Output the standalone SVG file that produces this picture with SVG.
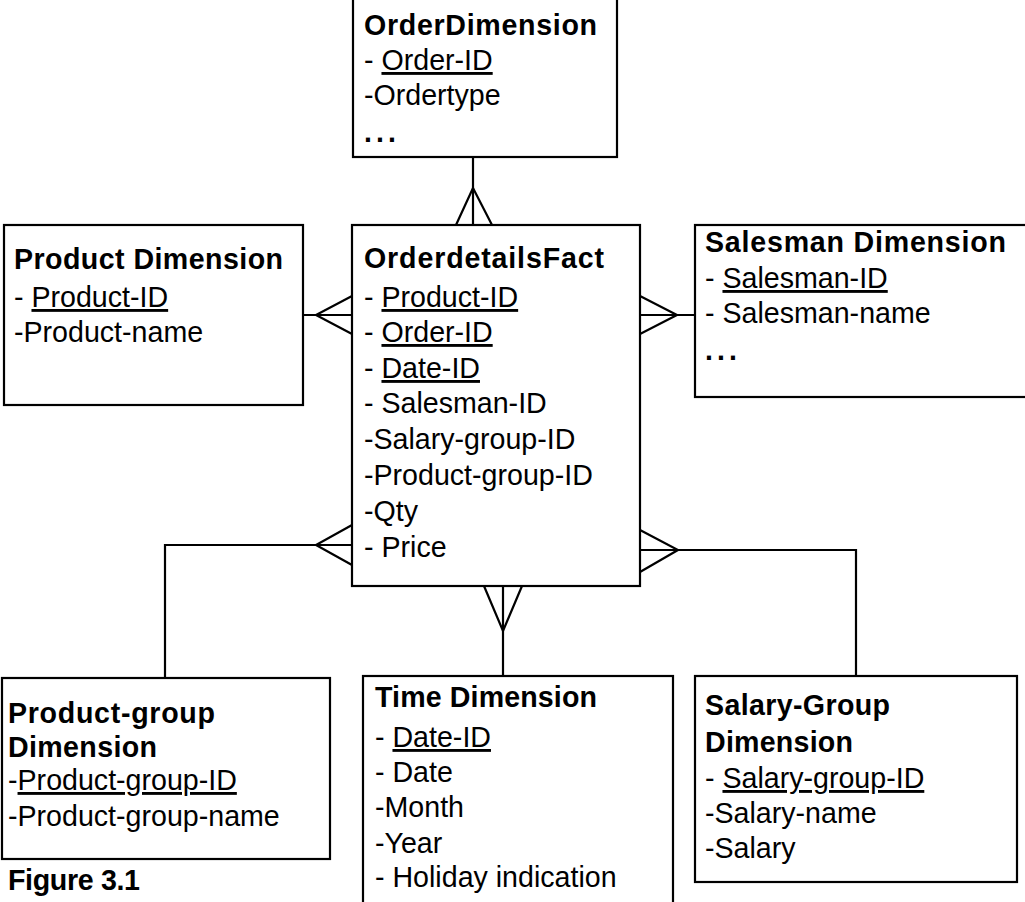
<svg xmlns="http://www.w3.org/2000/svg" width="1025" height="902" viewBox="0 0 1025 902">
<style>
  .box { fill: #ffffff; stroke: #000000; stroke-width: 2.2; }
  .t { font-family: "Liberation Sans", Arial, sans-serif; font-size: 28.6px; fill: #000000; }
  .b { font-weight: bold; }
  .u { text-decoration: underline; }
  .dots { font-weight: bold; letter-spacing: 4px; }
  .c { fill: none; stroke: #000000; stroke-width: 2.2; }
</style>
<rect width="1025" height="902" fill="#ffffff"/>

<g id="connectors">
  <line class="c" x1="473" y1="157" x2="473" y2="225"/>
  <polyline class="c" points="456,225 473,188 492,225"/>
  <line class="c" x1="303" y1="315" x2="352" y2="315"/>
  <polyline class="c" points="352,296 316,315 352,334"/>
  <line class="c" x1="640" y1="315" x2="695" y2="315"/>
  <polyline class="c" points="640,296 677,315 640,334"/>
  <polyline class="c" points="352,545 165,545 165,678"/>
  <polyline class="c" points="352,525 316,545 352,565"/>
  <line class="c" x1="503" y1="586" x2="503" y2="676"/>
  <polyline class="c" points="484,586 503,631 522,586"/>
  <polyline class="c" points="640,550 856,550 856,676"/>
  <polyline class="c" points="640,530 678,550 640,572"/>
</g>

<g id="order-dimension">
  <rect class="box" x="353" y="-2" width="264" height="159"/>
  <text class="t b" x="364" y="35" textLength="233" lengthAdjust="spacing">OrderDimension</text>
  <text class="t" x="364" y="70">- <tspan class="u">Order-ID</tspan></text>
  <text class="t" x="364" y="105">-Ordertype</text>
  <text class="t dots" x="364" y="142">...</text>
</g>

<g id="orderdetails-fact">
  <rect class="box" x="352" y="225" width="288" height="361"/>
  <text class="t b" x="364" y="268" textLength="240" lengthAdjust="spacing">OrderdetailsFact</text>
  <text class="t" x="364" y="307">- <tspan class="u">Product-ID</tspan></text>
  <text class="t" x="364" y="342">- <tspan class="u">Order-ID</tspan></text>
  <text class="t" x="364" y="378">- <tspan class="u">Date-ID</tspan></text>
  <text class="t" x="364" y="413">- Salesman-ID</text>
  <text class="t" x="364" y="449">-Salary-group-ID</text>
  <text class="t" x="364" y="485">-Product-group-ID</text>
  <text class="t" x="364" y="521">-Qty</text>
  <text class="t" x="364" y="557">- Price</text>
</g>

<g id="product-dimension">
  <rect class="box" x="4" y="225" width="299" height="180"/>
  <text class="t b" x="14" y="269" textLength="269" lengthAdjust="spacing">Product Dimension</text>
  <text class="t" x="14" y="307">- <tspan class="u">Product-ID</tspan></text>
  <text class="t" x="14" y="342">-Product-name</text>
</g>

<g id="salesman-dimension">
  <rect class="box" x="695" y="225" width="340" height="172"/>
  <text class="t b" x="705" y="252" textLength="301" lengthAdjust="spacing">Salesman  Dimension</text>
  <text class="t" x="705" y="288">- <tspan class="u">Salesman-ID</tspan></text>
  <text class="t" x="705" y="323">- Salesman-name</text>
  <text class="t dots" x="705" y="360">...</text>
</g>

<g id="product-group-dimension">
  <rect class="box" x="2" y="678" width="328" height="181"/>
  <text class="t b" x="8" y="723" textLength="207" lengthAdjust="spacing">Product-group</text>
  <text class="t b" x="8" y="757" textLength="149" lengthAdjust="spacing">Dimension</text>
  <text class="t" x="8" y="790">-<tspan class="u">Product-group-ID</tspan></text>
  <text class="t" x="8" y="826">-Product-group-name</text>
</g>

<g id="time-dimension">
  <rect class="box" x="363" y="676" width="310" height="240"/>
  <text class="t b" x="375" y="707" textLength="222" lengthAdjust="spacing">Time Dimension</text>
  <text class="t" x="375" y="747">- <tspan class="u">Date-ID</tspan></text>
  <text class="t" x="375" y="782">- Date</text>
  <text class="t" x="375" y="817">-Month</text>
  <text class="t" x="375" y="853">-Year</text>
  <text class="t" x="375" y="887">- Holiday indication</text>
</g>

<g id="salary-group-dimension">
  <rect class="box" x="695" y="676" width="322" height="206"/>
  <text class="t b" x="705" y="715" textLength="185" lengthAdjust="spacing">Salary-Group</text>
  <text class="t b" x="705" y="752" textLength="148" lengthAdjust="spacing">Dimension</text>
  <text class="t" x="705" y="788">- <tspan class="u">Salary-group-ID</tspan></text>
  <text class="t" x="705" y="823">-Salary-name</text>
  <text class="t" x="705" y="858">-Salary</text>
</g>

<g id="caption">
  <text class="t b" x="8" y="890" textLength="132" lengthAdjust="spacing">Figure 3.1</text>
</g>
</svg>
